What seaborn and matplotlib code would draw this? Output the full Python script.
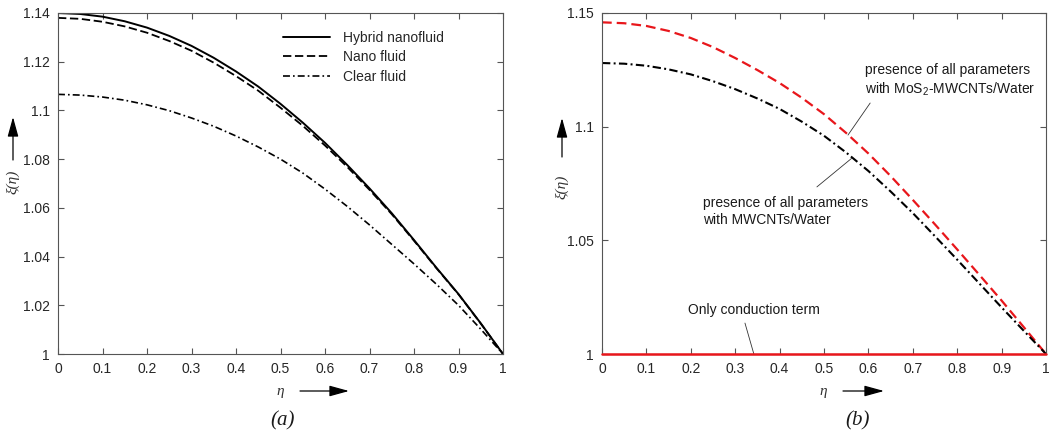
import numpy as np
import pandas as pd
import seaborn as sns
import matplotlib.pyplot as plt

# eixo eta e perfis
eta = [0.0, 0.05, 0.1, 0.15, 0.2, 0.25, 0.3, 0.35, 0.4, 0.45, 0.5,
       0.55, 0.6, 0.65, 0.7, 0.75, 0.8, 0.85, 0.9, 0.95, 1.0]

# (a)
hybrid = [1.1400, 1.1396, 1.1385, 1.1366, 1.1340, 1.1306, 1.1265, 1.1216, 1.1160, 1.1098, 1.1027,
          1.0950, 1.0867, 1.0776, 1.0680, 1.0578, 1.0468, 1.0355, 1.0246, 1.0126, 1.0000]
nano = [1.1380, 1.1376, 1.1364, 1.1345, 1.1319, 1.1285, 1.1245, 1.1196, 1.1141, 1.1081, 1.1011,
        1.0937, 1.0856, 1.0768, 1.0674, 1.0574, 1.0465, 1.0353, 1.0245, 1.0125, 1.0000]
clear = [1.1066, 1.1063, 1.1055, 1.1042, 1.1023, 1.0999, 1.0969, 1.0935, 1.0895, 1.0850, 1.0800,
         1.0743, 1.0677, 1.0606, 1.0530, 1.0450, 1.0370, 1.0287, 1.0200, 1.0102, 1.0000]

# (b)
mos2_mwcnt = [1.1459, 1.1455, 1.1443, 1.1421, 1.1390, 1.1350, 1.1302, 1.1249, 1.1192, 1.1127, 1.1055,
              1.0972, 1.0882, 1.0783, 1.0678, 1.0570, 1.0460, 1.0348, 1.0235, 1.0118, 1.0000]
mwcnt = [1.1280, 1.1277, 1.1268, 1.1252, 1.1230, 1.1200, 1.1165, 1.1124, 1.1078, 1.1022, 1.0960,
         1.0886, 1.0805, 1.0715, 1.0620, 1.0518, 1.0415, 1.0310, 1.0205, 1.0102, 1.0000]
conduction = [1.0, 1.0, 1.0, 1.0, 1.0, 1.0, 1.0, 1.0, 1.0, 1.0, 1.0,
              1.0, 1.0, 1.0, 1.0, 1.0, 1.0, 1.0, 1.0, 1.0, 1.0]

x_ticks = [0, 0.1, 0.2, 0.3, 0.4, 0.5, 0.6, 0.7, 0.8, 0.9, 1]
x_labels = ['0', '0.1', '0.2', '0.3', '0.4', '0.5', '0.6', '0.7', '0.8', '0.9', '1']
ya_ticks = [1, 1.02, 1.04, 1.06, 1.08, 1.1, 1.12, 1.14]
ya_labels = ['1', '1.02', '1.04', '1.06', '1.08', '1.1', '1.12', '1.14']
yb_ticks = [1, 1.05, 1.1, 1.15]
yb_labels = ['1', '1.05', '1.1', '1.15']

df_a = pd.DataFrame({'eta': eta, 'hybrid': hybrid, 'nano': nano, 'clear': clear})
df_b = pd.DataFrame({'eta': eta, 'mos2': mos2_mwcnt, 'mwcnt': mwcnt, 'cond': conduction})

sns.set_theme(style='white')
plt.rcParams['font.family'] = ['Liberation Sans', 'DejaVu Sans']
plt.rcParams['mathtext.fontset'] = 'custom'
plt.rcParams['mathtext.rm'] = 'Liberation Sans'
plt.rcParams['mathtext.it'] = 'Liberation Sans:italic'
plt.rcParams['lines.scale_dashes'] = False

W, H = 1061, 438
fig = plt.figure(figsize=(W / 100, H / 100), dpi=100)
ax1 = fig.add_axes([58 / W, 84 / H, 445 / W, 341 / H])
ax2 = fig.add_axes([602 / W, 84 / H, 444 / W, 341 / H])

# 1. painel (a)
sns.lineplot(data=df_a, x='eta', y='hybrid', ax=ax1, color='black', lw=1.4,
             label='Hybrid nanofluid')
sns.lineplot(data=df_a, x='eta', y='nano', ax=ax1, color='black', lw=1.3,
             linestyle=(0, (6, 2.6)), label='Nano fluid')
sns.lineplot(data=df_a, x='eta', y='clear', ax=ax1, color='black', lw=1.2,
             linestyle=(0, (5, 2.2, 1.2, 2.2)), label='Clear fluid')
ax1.set_ylim(1, 1.14)
ax1.set_yticks(ya_ticks)
ax1.set_yticklabels(ya_labels)
ax1.legend(loc='upper left', bbox_to_anchor=(0.478, 0.985), frameon=False,
           fontsize=10, handlelength=3.4, handletextpad=0.9, labelspacing=0.4)

# 2. painel (b)
sns.lineplot(data=df_b, x='eta', y='mos2', ax=ax2, color='#e8161b', lw=1.6,
             linestyle=(0, (7, 3.6)))
sns.lineplot(data=df_b, x='eta', y='mwcnt', ax=ax2, color='black', lw=1.5,
             linestyle=(0, (6, 2.4, 1.4, 2.4)))
sns.lineplot(data=df_b, x='eta', y='cond', ax=ax2, color='#e8161b', lw=1.8,
             clip_on=False, zorder=4)
ax2.set_ylim(1, 1.15)
ax2.set_yticks(yb_ticks)
ax2.set_yticklabels(yb_labels)

for ax in (ax1, ax2):
    ax.set_xlim(0, 1)
    ax.set_xticks(x_ticks)
    ax.set_xticklabels(x_labels)
    ax.set_xlabel('')
    ax.set_ylabel('')
    ax.tick_params(direction='in', top=True, right=True, bottom=True, left=True,
                   length=4, width=0.8, color='#555555', labelcolor='#262626',
                   labelsize=10, pad=6)
    for s in ax.spines.values():
        s.set_color('#555555')
        s.set_linewidth(0.8)

# anotacoes do painel (b)
ax2.text(0.592, 1.1203, 'presence of all parameters\nwith MoS$_2$-MWCNTs/Water',
         fontsize=10, va='center', ha='left', color='#1a1a1a', linespacing=1.25)
ax2.annotate('', xy=(0.554, 1.0963), xytext=(0.604, 1.1104),
             arrowprops=dict(arrowstyle='-', lw=0.6, color='#333333', shrinkA=0, shrinkB=0))
ax2.text(0.2275, 1.0627, 'presence of all parameters\nwith MWCNTs/Water',
         fontsize=10, va='center', ha='left', color='#1a1a1a', linespacing=1.25)
ax2.annotate('', xy=(0.563, 1.0862), xytext=(0.484, 1.0735),
             arrowprops=dict(arrowstyle='-', lw=0.6, color='#333333', shrinkA=0, shrinkB=0))
ax2.text(0.194, 1.0193, 'Only conduction term', fontsize=10, va='center', ha='left',
         color='#1a1a1a')
ax2.annotate('', xy=(0.342, 1.0), xytext=(0.322, 1.0136),
             arrowprops=dict(arrowstyle='-', lw=0.6, color='#333333', shrinkA=0, shrinkB=0))

# rotulos dos eixos com setas (estilo do artigo)
serif = ['Liberation Serif', 'DejaVu Serif']
arrow = dict(arrowstyle='-|>,head_length=0.8,head_width=0.22', color='black', lw=0.9,
             mutation_scale=15, shrinkA=0, shrinkB=0)
for (yx, yy, ax0, ay0, ay1) in [(13, 182, 13, 160, 117), (562, 187, 562, 157, 118)]:
    fig.text(yx / W, 1 - yy / H, 'ξ(η)', family=serif, style='italic', fontsize=11,
             rotation=90, ha='center', va='center', color='#333333')
    fig.add_artist(plt.matplotlib.patches.FancyArrowPatch(
        (ax0 / W, 1 - ay0 / H), (ax0 / W, 1 - ay1 / H), transform=fig.transFigure, **arrow))
for (ex, ey, a0, a1) in [(280, 391, 300, 349), (823, 391, 843, 884)]:
    fig.text(ex / W, 1 - ey / H, 'η', family=serif, style='italic', fontsize=11,
             ha='center', va='center', color='#333333')
    fig.add_artist(plt.matplotlib.patches.FancyArrowPatch(
        (a0 / W, 1 - ey / H), (a1 / W, 1 - ey / H), transform=fig.transFigure, **arrow))

fig.text(283 / W, 1 - 421 / H, '(a)', family=serif, style='italic', fontsize=15,
         ha='center', va='center', color='#1a1a1a')
fig.text(858 / W, 1 - 421 / H, '(b)', family=serif, style='italic', fontsize=15,
         ha='center', va='center', color='#1a1a1a')

fig.savefig('out.png', dpi=100)
